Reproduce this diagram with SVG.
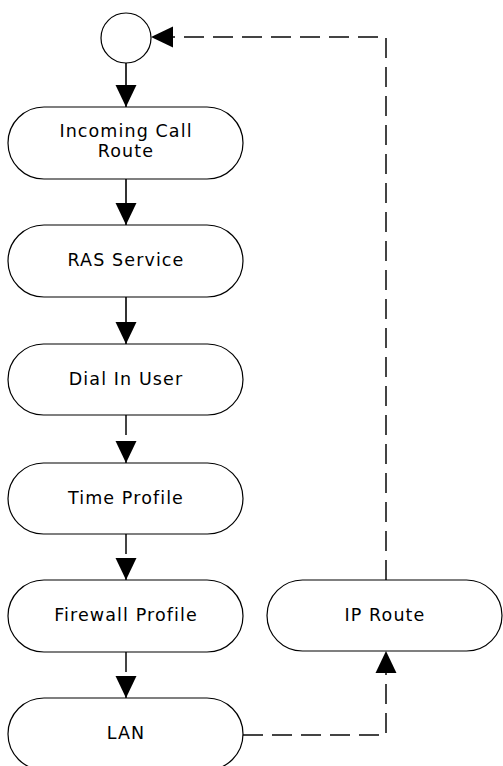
<svg xmlns="http://www.w3.org/2000/svg" width="503" height="766" viewBox="0 0 503 766">
<style>
.node{fill:#fff;stroke:#000;stroke-width:1.2}
.lbl{font-family:"DejaVu Sans",Verdana,sans-serif;font-size:17.5px;letter-spacing:1.1px;fill:#000;text-anchor:middle}
.c{fill:none;stroke:#333;stroke-width:2}
.d{fill:none;stroke:#444;stroke-width:2;stroke-dasharray:20 9}
</style>
<defs>
<marker id="ah" markerUnits="userSpaceOnUse" markerWidth="22" markerHeight="22" viewBox="0 0 21 20" refX="21" refY="10" orient="auto">
<path d="M0,0 L21,10 L0,20 z" fill="#000"/>
</marker>
</defs>
<g id="connectors">
<path class="c" d="M126,63 V107" marker-end="url(#ah)"/>
<path class="c" d="M126,179 V225" marker-end="url(#ah)"/>
<path class="c" d="M126,297 V344" marker-end="url(#ah)"/>
<path class="d" d="M126,415 V463" marker-end="url(#ah)"/>
<path class="d" d="M126,534 V580" marker-end="url(#ah)"/>
<path class="d" d="M126,652 V698" marker-end="url(#ah)"/>
<path class="d" d="M243,735 H386 V651" marker-end="url(#ah)"/>
<path class="d" d="M386,580 V37 H151" marker-end="url(#ah)"/>
</g>
<g id="start"><circle cx="126" cy="38" r="25" class="node"/></g>
<g id="incoming-call-route"><rect x="8" y="107" width="235" height="72" rx="36" class="node"/><text class="lbl" x="126" y="137">Incoming Call</text><text class="lbl" x="126" y="157">Route</text></g>
<g id="ras-service"><rect x="8" y="225" width="235" height="72" rx="36" class="node"/><text class="lbl" x="126" y="266">RAS Service</text></g>
<g id="dial-in-user"><rect x="8" y="344" width="235" height="71" rx="35.5" class="node"/><text class="lbl" x="126" y="385">Dial In User</text></g>
<g id="time-profile"><rect x="8" y="463" width="235" height="71" rx="35.5" class="node"/><text class="lbl" x="126" y="504">Time Profile</text></g>
<g id="firewall-profile"><rect x="8" y="580" width="235" height="72" rx="36" class="node"/><text class="lbl" x="126" y="621">Firewall Profile</text></g>
<g id="ip-route"><rect x="267" y="580" width="235" height="71" rx="35.5" class="node"/><text class="lbl" x="385" y="621">IP Route</text></g>
<g id="lan"><rect x="8" y="698" width="235" height="72" rx="36" class="node"/><text class="lbl" x="126" y="739">LAN</text></g>
</svg>
